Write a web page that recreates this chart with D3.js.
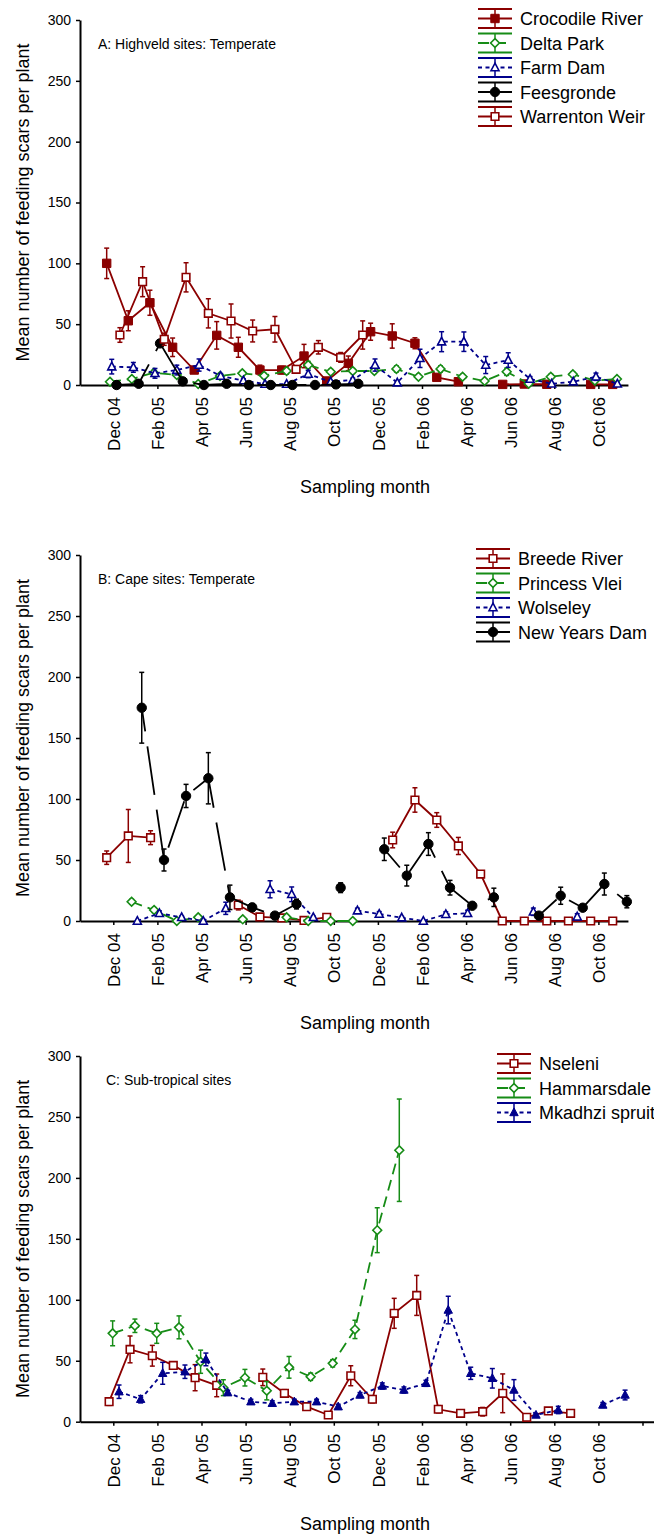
<!DOCTYPE html>
<html>
<head>
<meta charset="utf-8">
<script src="https://cdn.jsdelivr.net/npm/d3@7"></script>
<style>
  body { margin: 0; background: #fff; }
  svg { display: block; }
  text { font-family: "Liberation Sans", Arial, Helvetica, sans-serif; fill: #000; }
</style>
</head>
<body>
<svg id="chart" width="654" height="1536"></svg>
<script>
// Month index: 0 = December 2004; fractions place each sampling date within its month.
const monthTicks = [0, 2, 4, 6, 8, 10, 12, 14, 16, 18, 20, 22, 24];
const monthLabels = ["Dec 04", "Feb 05", "Apr 05", "Jun 05", "Aug 05", "Oct 05",
                     "Dec 05", "Feb 06", "Apr 06", "Jun 06", "Aug 06", "Oct 06"];
const yTicks = [0, 50, 100, 150, 200, 250, 300];

// Each row: [month index, mean scars per plant, standard error]
// A: Highveld sites
const crocodileRiver = [
  [-0.30, 100, 12.5], [0.68, 52.8, 8.2], [1.66, 67.6, 10.3], [2.69, 31, 7.6], [3.67, 12.3, 2],
  [4.69, 40.8, 11.3], [5.67, 31, 8.2], [6.65, 12.3, 4], [7.64, 12.3, 3], [8.65, 23.8, 9.6],
  [9.68, 3.3, 2], [10.66, 17.8, 6], [11.67, 43.8, 7], [12.65, 40.3, 10], [13.68, 34.3, 4.5],
  [14.67, 6.3, 1.5], [15.65, 2.7, 1], [17.66, 0.5, 0.3], [18.64, 0.8, 0.3], [19.66, 0.6, 0.3],
  [21.65, 0.5, 0.3], [22.65, 0.5, 0.3]
];
const deltaPark = [
  [-0.15, 2.7, 1], [0.84, 4.9, 1.5], [1.84, 10.1, 2], [2.88, 8.2, 2], [3.85, 0.8, 0.5],
  [4.84, 7.4, 2], [5.85, 9.6, 2], [6.84, 7.6, 2], [7.86, 11.5, 2.5], [8.84, 16.4, 3],
  [9.86, 10.9, 2], [10.86, 11.5, 2], [11.84, 11.5, 2], [12.84, 13.2, 2.5], [13.84, 6.8, 2],
  [14.84, 13.2, 2.5], [15.84, 6.8, 2], [16.84, 3.3, 1.5], [17.84, 10.9, 3], [18.84, 1, 0.5],
  [19.84, 6.8, 2], [20.84, 8.8, 2], [21.84, 3.6, 1.5], [22.84, 4.9, 1.5]
];
const farmDam = [
  [-0.07, 15.1, 6], [0.91, 14.5, 4], [1.89, 9.6, 4], [2.88, 12.3, 4], [3.89, 16.4, 5],
  [4.87, 7.4, 2], [5.90, 3.6, 1.5], [6.88, 0.8, 0.5], [7.86, 0.8, 0.5], [8.84, 9, 3],
  [9.86, 2.7, 1], [10.86, 4.1, 1.5], [11.87, 16.4, 5], [12.88, 1.9, 1], [13.91, 21.9, 7.5],
  [14.89, 35.6, 8.2], [15.90, 35.6, 8], [16.89, 16.4, 7], [17.91, 20.5, 6], [18.90, 4.9, 2],
  [19.88, 1, 0.5], [20.86, 2.7, 1], [21.89, 6.8, 3], [22.86, 1, 0.5]
];
const feesgronde = [
  [0.15, 0, 0], [1.15, 1, 0.5], [2.12, 34.2, 2], [3.15, 3, 1], [4.11, 0, 0], [5.14, 1, 0.5],
  [6.15, 0, 0], [7.14, 0, 0], [8.12, 0, 0], [9.15, 0, 0], [10.10, 0.5, 0.3], [11.11, 1, 0.5]
];
const warrentonWeir = [
  [0.30, 41.1, 6], [1.33, 84.9, 12.3], [2.31, 37.6, 5], [3.30, 88.5, 12], [4.31, 58.9, 12],
  [5.34, 52.6, 14], [6.32, 44.4, 9], [7.33, 45.8, 10.5], [8.29, 12.9, 3], [9.30, 31, 5.5],
  [10.31, 22.7, 4], [11.31, 41.1, 11.6]
];

// B: Cape sites
const breedeRiver = [
  [-0.30, 51.9, 5.5], [0.68, 69.7, 21.7], [1.69, 68.3, 5.7], [5.67, 13.1, 4], [6.65, 3.3, 1],
  [7.64, 2.5, 1], [8.65, 0.5, 0.3], [9.68, 3, 1], [12.67, 66.4, 6.4], [13.68, 99.2, 10],
  [14.67, 82.8, 6], [15.65, 61.5, 7], [16.66, 38.5, 2], [17.64, 0, 0], [18.64, 0, 0],
  [19.66, 0, 0], [20.64, 0, 0], [21.65, 0, 0], [22.65, 0, 0]
];
const princessVlei = [
  [0.83, 15.8, 2], [1.85, 9, 2], [2.88, 0, 0], [3.85, 3, 1], [5.87, 1.4, 0.5],
  [7.86, 3, 1], [8.84, 0, 0], [9.86, 0, 0], [10.86, 0, 0]
];
const wolseley = [
  [1.09, 0, 0], [2.09, 6.3, 2], [3.10, 3, 1], [4.08, 0, 0], [5.10, 10.4, 5], [7.11, 26, 7],
  [8.09, 21.9, 6], [9.07, 3, 1], [11.07, 8.5, 2], [12.06, 5.7, 2], [13.08, 2.7, 1],
  [14.06, 0, 0], [15.08, 5.5, 2], [16.07, 6.3, 2.5], [19.05, 7.6, 3], [21.04, 3.5, 2.5]
];
const newYearsDam = [
  [1.29, 174.8, 29], [2.30, 50, 9], [3.30, 102.5, 9.5], [4.31, 117, 21], [5.29, 19.4, 10],
  [6.30, 11.2, 3], [7.33, 4.4, 1], [8.31, 13.9, 4], [10.31, 27.3, 4], [12.29, 58.8, 9.2],
  [13.31, 37.2, 8.5], [14.29, 63.1, 9.3], [15.27, 27.3, 6], [16.28, 12.5, 2], [17.26, 19.4, 7.5],
  [19.30, 4.4, 1], [20.29, 20.7, 7], [21.29, 10.9, 2], [22.27, 30.3, 9], [23.29, 15.8, 5]
];

// C: Sub-tropical sites
const nseleni = [
  [-0.19, 16.4, 3], [0.76, 59.3, 11], [1.77, 54.1, 8.5], [2.72, 46.2, 3], [3.71, 36.1, 10.7],
  [4.69, 29.8, 9.3], [6.78, 36.4, 6.8], [7.76, 23.3, 3], [8.77, 12.3, 2], [9.75, 5.5, 1.5],
  [10.77, 37.7, 8.2], [11.75, 18.4, 3], [12.74, 88.9, 12.3], [13.76, 103.6, 16.4],
  [14.74, 10.2, 3], [15.75, 6.9, 2], [16.75, 8.2, 3.5], [17.66, 23.3, 15.9], [18.75, 3.6, 1],
  [19.73, 8.8, 2], [20.74, 6.9, 1.5]
];
const hammarsdale = [
  [-0.03, 72.5, 10.2], [0.98, 78.7, 5.5], [1.97, 72.5, 8.2], [2.98, 77.4, 9.4], [3.96, 49.2, 9.5],
  [4.99, 27.9, 6.5], [5.97, 36.1, 6.8], [6.96, 25.4, 7.5], [7.97, 44.6, 8.9], [8.95, 36.9, 3],
  [9.95, 47.9, 3], [10.96, 75.7, 7.5], [11.97, 157.1, 18.4], [12.97, 222.7, 42]
];
const mkadhziSpruit = [
  [0.26, 24.6, 5.5], [1.24, 18.4, 3], [2.24, 39.7, 9], [3.25, 41, 5.5], [4.20, 51.1, 5.2],
  [5.19, 23.8, 2], [6.24, 16.4, 2], [7.21, 15.1, 2], [8.21, 16.4, 2], [9.22, 16.4, 2],
  [10.20, 12.3, 2], [11.19, 21.9, 2], [12.20, 29.3, 2.5], [13.18, 26, 2.5], [14.18, 31.5, 2.5],
  [15.19, 91.6, 11.3], [16.21, 39.7, 5], [17.19, 35.6, 8], [18.17, 26, 8.5], [19.17, 5.5, 1],
  [20.18, 9.6, 3], [22.20, 13.7, 2], [23.21, 21.9, 4]
];

// ---- styles ----
const RED = "#8b0000", GREEN = "#168c16", BLUE = "#00008b", BLACK = "#000000";
const styles = {
  solidRed:   { color: RED,   dash: null },
  dashGreen:  { color: GREEN, dash: "11,6" },
  dotBlue:    { color: BLUE,  dash: "4,3.5" },
  solidBlack: { color: BLACK, dash: "49,15" }
};
const shapes = {
  square:       { d: "M-4.2,-4.2H4.2V4.2H-4.2Z", filled: true },
  openSquare:   { d: "M-3.8,-3.8H3.8V3.8H-3.8Z", filled: false },
  openDiamond:  { d: "M0,-4.4L4.4,0L0,4.4L-4.4,0Z", filled: false },
  openTriangle: { d: "M0,-4.4L4,3.2L-4,3.2Z", filled: false },
  triangle:     { d: "M0,-4.6L4.2,3.2L-4.2,3.2Z", filled: true },
  circle:       { d: "M4.7,0A4.7,4.7 0 1,1 -4.7,0A4.7,4.7 0 1,1 4.7,0Z", filled: true }
};

const panels = [
  {
    title: "A: Highveld sites: Temperate", titleX: 98, top: 20, bottom: 385, xMax: 23.34,
    ticks: 12, dashOffset: 5, legend: { x: 478, y: 18.5, textX: 520 },
    series: [
      { name: "Crocodile River", data: crocodileRiver, style: "solidRed",   shape: "square" },
      { name: "Delta Park",      data: deltaPark,      style: "dashGreen",  shape: "openDiamond" },
      { name: "Farm Dam",        data: farmDam,        style: "dotBlue",    shape: "openTriangle" },
      { name: "Feesgronde",      data: feesgronde,     style: "solidBlack", shape: "circle" },
      { name: "Warrenton Weir",  data: warrentonWeir,  style: "solidRed",   shape: "openSquare" }
    ]
  },
  {
    title: "B: Cape sites: Temperate", titleX: 98, top: 555, bottom: 921, xMax: 23.34,
    ticks: 12, dashOffset: 25, legend: { x: 476, y: 558.5, textX: 518 },
    series: [
      { name: "Breede River",   data: breedeRiver,  style: "solidRed",   shape: "openSquare" },
      { name: "Princess Vlei",  data: princessVlei, style: "dashGreen",  shape: "openDiamond" },
      { name: "Wolseley",       data: wolseley,     style: "dotBlue",    shape: "openTriangle" },
      { name: "New Years Dam",  data: newYearsDam,  style: "solidBlack", shape: "circle" }
    ]
  },
  {
    title: "C: Sub-tropical sites", titleX: 106, top: 1056, bottom: 1421.7, xMax: 24.8,
    ticks: 13, dashOffset: 0, legend: { x: 497, y: 1063.5, textX: 539 },
    series: [
      { name: "Nseleni",        data: nseleni,       style: "solidRed",  shape: "openSquare" },
      { name: "Hammarsdale",    data: hammarsdale,   style: "dashGreen", shape: "openDiamond" },
      { name: "Mkadhzi spruit", data: mkadhziSpruit, style: "dotBlue",   shape: "triangle" }
    ]
  }
];

const svg = d3.select("#chart");
const LEFT = 80, X0 = -1.51, PX_PER_MONTH = 22.05;

// split a series into runs of consecutive monthly samples; a skipped month breaks the line
function runs(data) {
  const out = [];
  let cur = [];
  data.forEach((d, i) => {
    if (i > 0 && d[0] - data[i - 1][0] > 1.5) { out.push(cur); cur = []; }
    cur.push(d);
  });
  if (cur.length) out.push(cur);
  return out;
}

function marker(sel, shape, color) {
  const s = shapes[shape];
  sel.append("path")
    .attr("d", s.d)
    .attr("fill", s.filled ? color : "#fff")
    .attr("stroke", color)
    .attr("stroke-width", s.filled ? 1 : 1.6);
}

panels.forEach(p => {
  const x = d3.scaleLinear().domain([X0, p.xMax])
    .range([LEFT, LEFT + (p.xMax - X0) * PX_PER_MONTH]);
  const y = d3.scaleLinear().domain([0, 300]).range([p.bottom, p.top]);
  const g = svg.append("g");

  // y axis
  const yAxis = g.append("g").attr("transform", `translate(${LEFT},0)`)
    .call(d3.axisLeft(y).tickValues(yTicks).tickSize(4).tickSizeOuter(0).tickPadding(5));
  yAxis.select(".domain").attr("stroke-width", 2);
  yAxis.selectAll(".tick line").attr("stroke-width", 1.5);
  yAxis.selectAll("text").style("font-size", "14px")
    .style("font-family", "'Liberation Sans', Arial, sans-serif");

  // x axis
  const xAxis = g.append("g").attr("transform", `translate(0,${p.bottom})`)
    .call(d3.axisBottom(x).tickValues(monthTicks.slice(0, p.ticks)).tickSize(4).tickSizeOuter(0)
      .tickFormat((d, i) => monthLabels[i] || ""));
  xAxis.select(".domain").attr("stroke-width", 2);
  xAxis.selectAll(".tick line").attr("stroke-width", 1.5);
  xAxis.selectAll("text")
    .attr("transform", "rotate(-90)")
    .attr("x", -12).attr("y", 0).attr("dy", "0.36em")
    .style("text-anchor", "end")
    .style("font-size", "17px")
    .style("font-family", "'Liberation Sans', Arial, sans-serif");

  // axis titles
  g.append("text").attr("x", 365).attr("y", p.bottom + 108)
    .attr("text-anchor", "middle").style("font-size", "18px").text("Sampling month");
  g.append("text")
    .attr("transform", `translate(28.5,${(p.top + p.bottom) / 2}) rotate(-90)`)
    .attr("text-anchor", "middle").style("font-size", "18px")
    .text("Mean number of feeding scars per plant");

  // panel title
  g.append("text").attr("x", p.titleX).attr("y", p.top + 29)
    .style("font-size", "14px").text(p.title);

  const line = d3.line().x(d => x(d[0])).y(d => y(d[1]));

  p.series.forEach(s => {
    const st = styles[s.style];
    const sg = g.append("g");
    runs(s.data).forEach(r => {
      sg.append("path").attr("d", line(r))
        .attr("fill", "none").attr("stroke", st.color).attr("stroke-width", 1.8)
        .attr("stroke-dasharray", st.dash)
        .attr("stroke-dashoffset", s.style === "solidBlack" ? p.dashOffset : null);
    });
    // error bars (± SE)
    const eb = sg.selectAll(".eb").data(s.data.filter(d => d[2] > 0)).join("g")
      .attr("stroke", st.color).attr("stroke-width", 1.5);
    eb.append("line").attr("x1", d => x(d[0])).attr("x2", d => x(d[0]))
      .attr("y1", d => y(d[1] + d[2])).attr("y2", d => y(d[1] - d[2]));
    eb.append("line").attr("x1", d => x(d[0]) - 2.5).attr("x2", d => x(d[0]) + 2.5)
      .attr("y1", d => y(d[1] + d[2])).attr("y2", d => y(d[1] + d[2]));
    eb.append("line").attr("x1", d => x(d[0]) - 2.5).attr("x2", d => x(d[0]) + 2.5)
      .attr("y1", d => y(d[1] - d[2])).attr("y2", d => y(d[1] - d[2]));
    // markers
    sg.selectAll(".mk").data(s.data).join("g")
      .attr("transform", d => `translate(${x(d[0])},${y(d[1])})`)
      .each(function () { marker(d3.select(this), s.shape, st.color); });
  });

  // legend
  const L = p.legend, W = 34, STEP = 24.5, CAP = 9.5;
  p.series.forEach((s, i) => {
    const st = styles[s.style];
    const cy = L.y + i * STEP, cx = L.x + W / 2;
    const lg = g.append("g");
    lg.append("line").attr("x1", L.x).attr("x2", L.x + W).attr("y1", cy - CAP).attr("y2", cy - CAP)
      .attr("stroke", st.color).attr("stroke-width", 1.8);
    lg.append("line").attr("x1", L.x).attr("x2", L.x + W).attr("y1", cy + CAP).attr("y2", cy + CAP)
      .attr("stroke", st.color).attr("stroke-width", 1.8);
    lg.append("line").attr("x1", cx).attr("x2", cx).attr("y1", cy - CAP).attr("y2", cy + CAP)
      .attr("stroke", st.color).attr("stroke-width", 1.5);
    lg.append("line").attr("x1", L.x).attr("x2", L.x + W).attr("y1", cy).attr("y2", cy)
      .attr("stroke", st.color).attr("stroke-width", 1.8)
      .attr("stroke-dasharray", s.style === "solidBlack" ? null : st.dash);
    marker(lg.append("g").attr("transform", `translate(${cx},${cy})`), s.shape, st.color);
    lg.append("text").attr("x", L.textX).attr("y", cy + 6.5)
      .style("font-size", "18px").text(s.name);
  });
});
</script>
</body>
</html>
